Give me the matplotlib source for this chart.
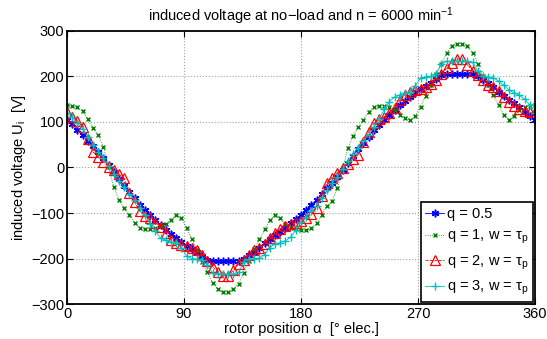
import matplotlib
matplotlib.use("Agg")
import matplotlib.pyplot as plt

plt.rcParams['font.family'] = ['Liberation Sans', 'DejaVu Sans']
plt.rcParams['mathtext.fontset'] = 'custom'
plt.rcParams['mathtext.rm'] = 'Liberation Sans'
plt.rcParams['mathtext.it'] = 'Liberation Sans:italic'

# rotor position [deg elec.]
rotor_pos = [0, 4, 8, 12, 16, 20, 24, 28, 32, 36, 40, 44, 48, 52, 56, 60, 64, 68, 72, 76,
             80, 84, 88, 92, 96, 100, 104, 108, 112, 116, 120, 124, 128, 132, 136, 140, 144,
             148, 152, 156, 160, 164, 168, 172, 176, 180, 184, 188, 192, 196, 200, 204, 208,
             212, 216, 220, 224, 228, 232, 236, 240, 244, 248, 252, 256, 260, 264, 268, 272,
             276, 280, 284, 288, 292, 296, 300, 304, 308, 312, 316, 320, 324, 328, 332, 336,
             340, 344, 348, 352, 356, 360]

u_q05 = [105, 95, 83, 72, 59, 47, 34, 21, 6, -10, -26, -40, -54, -68, -82, -93, -104, -116,
         -127, -137, -146, -155, -164, -172, -179, -186, -195, -203, -205, -205, -205, -205,
         -205, -205, -202, -193, -185, -176, -167, -158, -149, -141, -132, -123, -114, -104,
         -93, -82, -71, -58, -46, -33, -20, -5, 10, 26, 40, 54, 68, 82, 93, 104, 116, 127,
         137, 146, 155, 164, 172, 179, 186, 195, 203, 205, 205, 205, 205, 205, 205, 202, 193,
         185, 176, 167, 158, 149, 141, 132, 123, 114, 105]

u_q1 = [137, 135, 132, 124, 106, 86, 71, 45, 0, -43, -71, -90, -104, -122, -133, -135, -135,
        -133, -128, -124, -115, -104, -110, -133, -157, -182, -207, -229, -253, -268, -274,
        -274, -267, -255, -231, -205, -180, -158, -136, -116, -105, -112, -125, -134, -136,
        -137, -138, -134, -122, -104, -84, -73, -45, -2, 42, 70, 88, 105, 123, 132, 136, 136,
        132, 126, 116, 108, 104, 113, 134, 158, 182, 206, 228, 252, 268, 272, 272, 268, 251,
        228, 200, 181, 159, 137, 115, 105, 114, 126, 132, 135, 137]

u_q2 = [122, 112, 103, 88, 62, 34, 24, 12, 2, -6, -14, -24, -55, -76, -96, -106, -111, -122,
        -130, -145, -160, -166, -170, -173, -178, -182, -192, -205, -218, -230, -238, -238,
        -226, -212, -204, -192, -182, -176, -168, -156, -145, -135, -128, -125, -121, -118,
        -112, -103, -88, -62, -33, -22, -11, -2, 8, 18, 28, 55, 78, 97, 106, 111, 120, 130,
        148, 160, 166, 170, 173, 178, 183, 192, 205, 218, 230, 238, 238, 226, 212, 204, 192,
        182, 176, 168, 156, 145, 135, 128, 125, 121, 122]

u_q3 = [120, 110, 98, 85, 68, 50, 35, 21, 4, -14, -30, -43, -58, -72, -88, -104, -124, -140,
        -155, -160, -163, -167, -176, -195, -200, -201, -204, -215, -232, -234, -234, -234,
        -234, -230, -208, -202, -200, -199, -192, -176, -168, -165, -161, -153, -138, -120,
        -108, -96, -84, -68, -50, -35, -21, -4, 14, 30, 43, 58, 72, 88, 106, 128, 145, 155,
        160, 163, 167, 180, 197, 199, 201, 206, 228, 233, 233, 233, 233, 233, 231, 212, 200,
        199, 197, 190, 181, 170, 164, 159, 150, 138, 120]

labels = ['q = 0.5', r'q = 1, w = τ$_\mathrm{p}$', r'q = 2, w = τ$_\mathrm{p}$',
          r'q = 3, w = τ$_\mathrm{p}$']
x_ticks = [0, 90, 180, 270, 360]
y_ticks = [-300, -200, -100, 0, 100, 200, 300]

fig = plt.figure(figsize=(5.47, 3.39), dpi=100)
ax = fig.add_axes([0.1225, 0.1032, 0.8556, 0.8054])

ax.plot(rotor_pos, u_q05, color=(0, 0, 1), linestyle='-', linewidth=0.6,
        marker=(6, 2, 0), markersize=5.5, markeredgewidth=1.1, label=labels[0])
ax.plot(rotor_pos, u_q1, color=(0, 0.5, 0), linestyle=':', linewidth=0.6,
        marker='x', markersize=3.5, markeredgewidth=1.0, label=labels[1])
ax.plot(rotor_pos, u_q2, color=(1, 0, 0), linestyle='--', linewidth=0.6,
        marker='^', markersize=6.5, markerfacecolor='none', markeredgewidth=0.9,
        label=labels[2])
ax.plot(rotor_pos, u_q3, color=(0, 0.75, 0.75), linestyle='-', linewidth=0.6,
        marker='+', markersize=6, markeredgewidth=1.0, label=labels[3])

ax.set_xlim(0, 360)
ax.set_ylim(-300, 300)
ax.set_xticks(x_ticks)
ax.set_yticks(y_ticks)
ax.tick_params(direction='in', top=True, right=True, length=4, width=0.8,
               labelsize=10.5, pad=2)
ax.grid(True, linestyle=':', color='#a0a0a0', linewidth=0.8)
for s in ax.spines.values():
    s.set_linewidth(1.3)

ax.set_title('induced voltage at no\u2212load and n = 6000 min$^{-1}$', fontsize=10.5, pad=7)
ax.set_xlabel('rotor position α  [° elec.]', fontsize=10.5, labelpad=1)
ax.set_ylabel(r'induced voltage U$_\mathrm{i}$  [V]', fontsize=10.5, labelpad=2)

leg = ax.legend(loc='lower right', fontsize=10.5, frameon=True, fancybox=False,
                edgecolor='black', framealpha=1, borderaxespad=0.15, handlelength=1.3,
                handletextpad=0.2, labelspacing=0.5, borderpad=0.3)
leg.get_frame().set_linewidth(1.2)

fig.savefig('out.png', dpi=100)
